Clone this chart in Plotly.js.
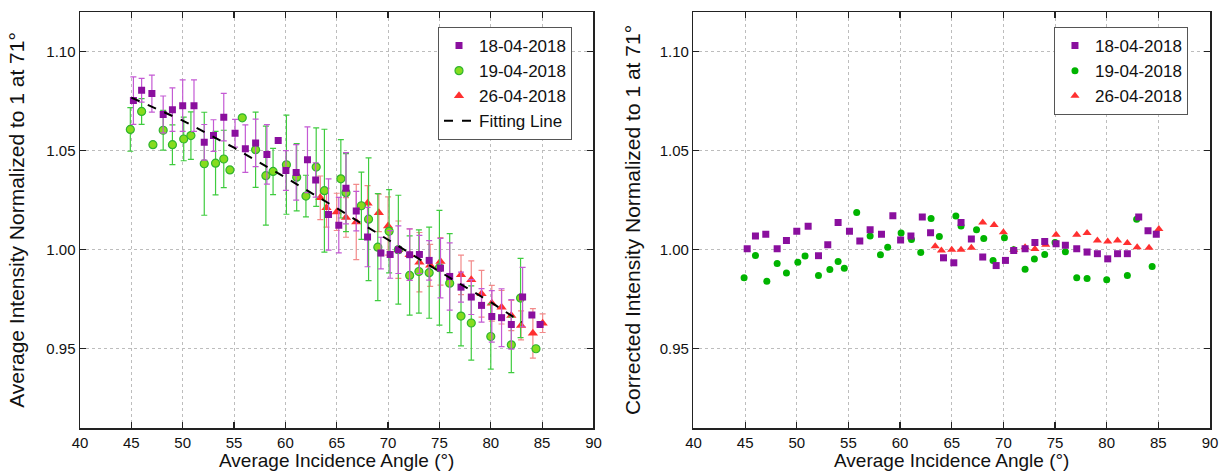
<!DOCTYPE html>
<html>
<head>
<meta charset="utf-8">
<script src="https://cdn.plot.ly/plotly-3.0.1.min.js"></script>
<style>html,body{margin:0;padding:0;background:#fff;}#chart{width:1220px;height:472px;}</style>
</head>
<body>
<div id="chart"></div>
<script>
// ---- Left panel: measured average intensity (normalized to 1 at 71°) ----
const angleA = [45.2,46.0,47.0,48.1,49.0,50.0,51.1,52.1,53.0,54.0,55.1,56.1,57.1,58.2,59.3,60.05,61.05,62.15,62.95,64.2,65.2,65.9,66.9,68.0,69.3,70.2,71.0,72.1,73.05,74.0,75.1,76.0,77.1,78.1,79.1,80.1,81.05,82.0,83.1,84.0,84.8];
const measA = [1.0753,1.0805,1.0788,1.0683,1.0707,1.0727,1.0727,1.0542,1.0576,1.0669,1.0588,1.0510,1.0539,1.0481,1.0551,1.0400,1.0390,1.0454,1.0352,1.0178,1.0124,1.0310,1.0195,1.0064,0.9983,0.9976,1.0000,0.9975,0.9976,0.9946,0.9907,0.9865,0.9811,0.9761,0.9719,0.9663,0.9657,0.9623,0.9761,0.9670,0.9623];
const errA  = [0.012,0.006,0.0093,0.0093,0.011,0.013,0.013,0.009,0.008,0.012,0.007,0.012,0.012,0.015,null,0.010,0.014,0.0166,0.0087,0.018,0.014,0.018,0.010,0.015,0.008,0.012,0.012,0.013,0.0096,0.010,0.015,0.017,0.0076,0.0088,0.0085,0.013,0.0146,0.0125,0.015,null,null];
const corrA = [1.0005,1.0069,1.0078,1.0005,1.0047,1.0093,1.0118,0.9970,1.0025,1.0138,1.0093,1.0044,1.0101,1.0078,1.0172,1.0049,1.0069,1.0165,1.0086,0.9959,0.9934,1.0138,1.0054,0.9963,0.9920,0.9946,0.9996,1.0005,1.0037,1.0041,1.0030,1.0023,1.0005,0.9988,0.9980,0.9954,0.9980,0.9980,1.0165,1.0096,1.0078];

const angleB = [44.9,46.0,47.1,48.1,49.0,50.1,50.8,52.1,53.2,54.0,54.6,55.8,57.1,58.1,58.8,60.1,61.1,62.0,63.0,63.8,65.4,65.9,67.4,68.1,69.0,70.1,71.0,72.1,73.0,74.0,75.0,76.0,77.1,78.1,80.0,82.0,82.9,84.4];
const measB = [1.0607,1.0698,1.0530,1.0603,1.0530,1.0559,1.0576,1.0434,1.0437,1.0458,1.0403,1.0666,1.0505,1.0374,1.0395,1.0429,1.0366,1.0271,1.0417,1.0298,1.0358,1.0288,1.0222,1.0154,1.0013,1.0093,1.0000,0.9870,0.9890,0.9884,0.9909,0.9831,0.9665,0.9630,0.9562,0.9520,0.9756,0.9500];
const errB  = [0.011,0.0065,null,0.010,0.010,0.011,0.012,0.026,0.016,0.0145,null,null,0.019,0.025,0.0117,0.025,0.017,0.0105,0.0198,0.031,0.0198,0.0197,0.017,0.031,0.027,0.021,0.0275,0.020,0.021,0.023,0.029,0.025,0.015,0.0187,0.0165,0.014,0.020,null];
const corrB = [0.9858,0.9971,0.9841,0.9931,0.9883,0.9937,0.9968,0.9870,0.9900,0.9941,0.9907,1.0188,1.0069,0.9975,1.0013,1.0084,1.0051,0.9986,1.0157,1.0067,1.0170,1.0120,1.0101,1.0057,0.9946,1.0061,1.0000,0.9902,0.9953,0.9976,1.0037,0.9990,0.9858,0.9855,0.9849,0.9870,1.0154,0.9915];

const angleC = [63.4,64.0,65.0,65.9,66.9,68.0,69.1,70.0,71.0,72.1,73.05,74.1,75.1,77.1,78.1,79.1,80.1,81.05,82.0,82.95,84.1,85.05];
const measC = [1.0262,1.0212,1.0191,1.0163,1.0140,1.0234,1.0186,1.0120,1.0000,0.9975,0.9937,0.9921,0.9941,0.9873,0.9848,0.9778,0.9730,0.9710,0.9668,0.9618,0.9578,0.9629];
const errC  = [0.011,0.0098,0.0094,0.010,0.019,0.009,0.0095,0.0147,0.0145,0.013,0.015,0.0106,0.012,0.010,0.0096,0.0118,0.009,0.0085,0.0076,0.0073,0.0125,0.0047];
const corrC = [1.0017,0.9996,1.0000,1.0000,1.0010,1.0138,1.0125,1.0088,1.0000,1.0013,1.0003,1.0025,1.0076,1.0076,1.0084,1.0046,1.0041,1.0047,1.0034,1.0013,1.0010,1.0104];

const fitX = [45,50,55,60,65,70,75,80,83];
const fitY = [1.0768,1.0652,1.0515,1.0365,1.0210,1.0050,0.9890,0.9735,0.9634];

const names = ['18-04-2018','19-04-2018','26-04-2018','Fitting Line'];
const xTicks = [40,45,50,55,60,65,70,75,80,85,90];
const yTicks = [0.95,1.00,1.05,1.10];

const PURPLE = '#8a0f9e', PURPLE_ERR = '#c45ad4';
const GREEN_FILL = '#86dc1e', GREEN_LINE = '#2fb52f', GREEN_ERR = '#3fcc3f';
const GREEN_R = '#00b400';
const RED = '#ff3030', RED_ERR = '#f28a8a';

function eb(arr, color){
  return {type:'data', array:arr, visible:true, color:color, thickness:1.2, width:3};
}

const traces = [
  {x:angleC, y:measC, name:names[2], type:'scatter', mode:'markers', xaxis:'x', yaxis:'y', legend:'legend',
   marker:{symbol:'triangle-up', size:9, color:RED}, error_y:eb(errC, RED_ERR), legendrank:3},
  {x:angleB, y:measB, name:names[1], type:'scatter', mode:'markers', xaxis:'x', yaxis:'y', legend:'legend',
   marker:{symbol:'circle', size:8, color:GREEN_FILL, line:{color:GREEN_LINE, width:1.2}}, error_y:eb(errB, GREEN_ERR), legendrank:2},
  {x:angleA, y:measA, name:names[0], type:'scatter', mode:'markers', xaxis:'x', yaxis:'y', legend:'legend',
   marker:{symbol:'square', size:7, color:PURPLE}, error_y:eb(errA, PURPLE_ERR), legendrank:1},
  {x:fitX, y:fitY, name:names[3], type:'scatter', mode:'lines', xaxis:'x', yaxis:'y', legend:'legend',
   line:{color:'#000', width:2, dash:'dash'}, legendrank:4},

  {x:angleC, y:corrC, name:names[2], type:'scatter', mode:'markers', xaxis:'x2', yaxis:'y2', legend:'legend2',
   marker:{symbol:'triangle-up', size:8, color:RED}, legendrank:3},
  {x:angleB, y:corrB, name:names[1], type:'scatter', mode:'markers', xaxis:'x2', yaxis:'y2', legend:'legend2',
   marker:{symbol:'circle', size:7, color:GREEN_R}, legendrank:2},
  {x:angleA, y:corrA, name:names[0], type:'scatter', mode:'markers', xaxis:'x2', yaxis:'y2', legend:'legend2',
   marker:{symbol:'square', size:7, color:PURPLE}, legendrank:1}
];

const FONT = 'Liberation Sans, Arial, sans-serif';
function xax(domain, anchor){
  return {domain:domain, anchor:anchor, range:[40,90], tickvals:xTicks, ticktext:xTicks.map(String),
    ticks:'inside', ticklen:6, tickwidth:1.2, tickcolor:'#222', mirror:'ticks', showline:true, linecolor:'#222', linewidth:1.5,
    showgrid:true, gridcolor:'#bdbdbd', griddash:'dot', gridwidth:1, zeroline:false,
    tickfont:{family:FONT, size:15, color:'#111'},
    title:{text:'Average Incidence Angle (°)', font:{family:FONT, size:19, color:'#111'}, standoff:4}};
}
function yax(anchor, title, standoff){
  return {anchor:anchor, domain:[0,1], range:[0.91,1.12], tickvals:yTicks, ticktext:yTicks.map(v=>v.toFixed(2)),
    ticks:'inside', ticklen:6, tickwidth:1.2, tickcolor:'#222', mirror:'ticks', showline:true, linecolor:'#222', linewidth:1.5,
    showgrid:true, gridcolor:'#bdbdbd', griddash:'dot', gridwidth:1, zeroline:false,
    tickfont:{family:FONT, size:15, color:'#111'},
    title:{text:title, font:{family:FONT, size:21, color:'#111'}, standoff:standoff}};
}
const legendBase = {bgcolor:'#fff', bordercolor:'#555', borderwidth:1, font:{family:FONT, size:17, color:'#111'},
  yanchor:'top', xanchor:'right', tracegroupgap:0, itemwidth:30};

const layout = {
  width:1220, height:472,
  margin:{l:80, r:10, t:12, b:44},
  paper_bgcolor:'#fff', plot_bgcolor:'#fff',
  showlegend:true,
  xaxis: xax([0,0.4544],'y'),
  yaxis: yax('x','Average Intensity Normalized to 1 at 71°', 16),
  xaxis2: xax([0.5429,1],'y2'),
  yaxis2: yax('x2','Corrected Intensity Normalized to 1 at 71°', 13),
  legend: Object.assign({}, legendBase, {x:0.4354, y:0.964}),
  legend2: Object.assign({}, legendBase, {x:0.9805, y:0.964})
};

Plotly.newPlot('chart', traces, layout, {displayModeBar:false, staticPlot:true});
</script>
</body>
</html>
